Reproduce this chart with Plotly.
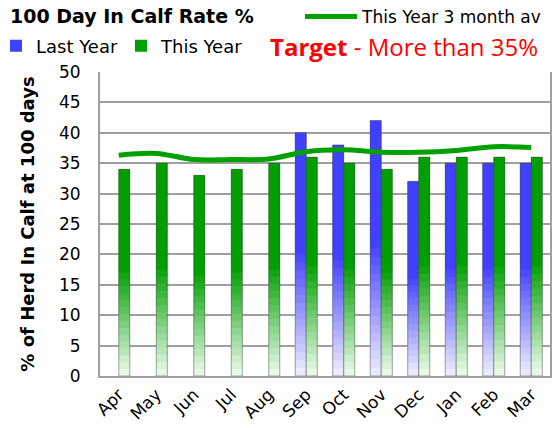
import plotly.graph_objects as go

months = ["Apr", "May", "Jun", "Jul", "Aug", "Sep", "Oct", "Nov", "Dec", "Jan", "Feb", "Mar"]
last_year = [None, None, None, None, None, 40, 38, 42, 32, 35, 35, 35]
this_year = [34, 35, 33, 34, 35, 36, 35, 34, 36, 36, 36, 36]
avg3 = [36.3, 36.6, 35.6, 35.6, 35.7, 36.9, 37.2, 36.8, 36.8, 37.1, 37.7, 37.6]
y_ticks = [0, 5, 10, 15, 20, 25, 30, 35, 40, 45, 50]

FONT = "DejaVu Sans"
BLUE = (64, 64, 255)
GREEN = (0, 158, 0)
K = 30  # gradient slices per bar

W, H = 559, 428


def mix(c, t):
    # t: 0 at bar bottom, 1 at top; solid above ~0.5, fading to near white below
    f = min(1.0, t / 0.52)
    base = (240, 252, 240) if c == GREEN else (240, 240, 255)
    r = [round(base[i] + (c[i] - base[i]) * f) for i in range(3)]
    return f"rgb({r[0]},{r[1]},{r[2]})"


fig = go.Figure()


def add_series(values, color, group, name):
    for k in range(K):
        frac = min(2.0, K - k) / K
        seg = [None if v is None else v * frac for v in values]
        base = [None if v is None else v * k / K for v in values]
        fig.add_trace(go.Bar(
            x=months, y=seg, base=base, offsetgroup=group,
            marker=dict(color=mix(color, (k + 0.5) / K), line=dict(width=0)),
            name=name, showlegend=(k == K - 1), legend="legend",
            hoverinfo="skip",
        ))
    # outline of the whole bar
    fig.add_trace(go.Bar(
        x=months, y=values, offsetgroup=group,
        marker=dict(color="rgba(0,0,0,0)", line=dict(color="rgba(60,60,60,0.45)", width=1)),
        showlegend=False, name=name,
    ))


add_series(last_year, BLUE, "a", "Last Year")
add_series(this_year, GREEN, "b", "This Year")

fig.add_trace(go.Scatter(
    x=months, y=avg3, mode="lines", name="This Year 3 month av",
    line=dict(color="rgb(0,160,0)", width=5, shape="spline"),
    legend="legend2",
))

fig.update_layout(
    width=W, height=H,
    margin=dict(l=100, r=9, t=72, b=52, autoexpand=False),
    paper_bgcolor="white", plot_bgcolor="white",
    barmode="group", bargap=0.41, bargroupgap=0,
    font=dict(family=FONT, color="black"),
    title=dict(text="<b>100 Day In Calf Rate %</b>", font=dict(family=FONT, size=19, color="black"),
               xref="container", x=10 / W, xanchor="left",
               yref="container", y=1 - 16 / H, yanchor="middle"),
    legend=dict(orientation="h", xref="paper", x=-104 / 450, xanchor="left",
                yref="container", y=1 - 46 / H, yanchor="middle",
                font=dict(family=FONT, size=18), bgcolor="rgba(0,0,0,0)",
                traceorder="normal", itemwidth=30,
                entrywidth=80, entrywidthmode="pixels"),
    legend2=dict(orientation="h", xref="container", x=300 / W, xanchor="left",
                 yref="container", y=1 - 17 / H, yanchor="middle",
                 font=dict(family=FONT, size=17), bgcolor="rgba(0,0,0,0)", itemwidth=52),
    showlegend=True,
)

fig.add_annotation(
    text="<b>Target</b> - More than 35%", xref="paper", yref="paper",
    x=(268 - 100) / 450, y=(376 - 46) / 304, xanchor="left", yanchor="middle",
    showarrow=False, font=dict(family="Open Sans", size=24, color="#FF0000"),
)

fig.update_yaxes(
    range=[0, 50], tickvals=y_ticks, ticktext=[str(v) for v in y_ticks],
    showgrid=True, gridcolor="rgb(160,160,160)", gridwidth=2, automargin=False,
    zeroline=False, showline=True, linecolor="rgb(160,160,160)", linewidth=2, mirror=True,
    ticks="", ticklabelstandoff=14, tickfont=dict(family=FONT, size=17),
    title=dict(text="<b>% of Herd In Calf at 100 days</b>", font=dict(family=FONT, size=18), standoff=20),
)
fig.update_xaxes(
    tickangle=-45, tickfont=dict(family=FONT, size=17), automargin=False,
    showline=True, linecolor="rgb(160,160,160)", linewidth=2, ticks="",
)

# remove the browser's default 8px body margin so the figure sits at the page origin
fig.write_html("out.html", config={"displayModeBar": False},
               post_script="document.body.style.margin='0';")
